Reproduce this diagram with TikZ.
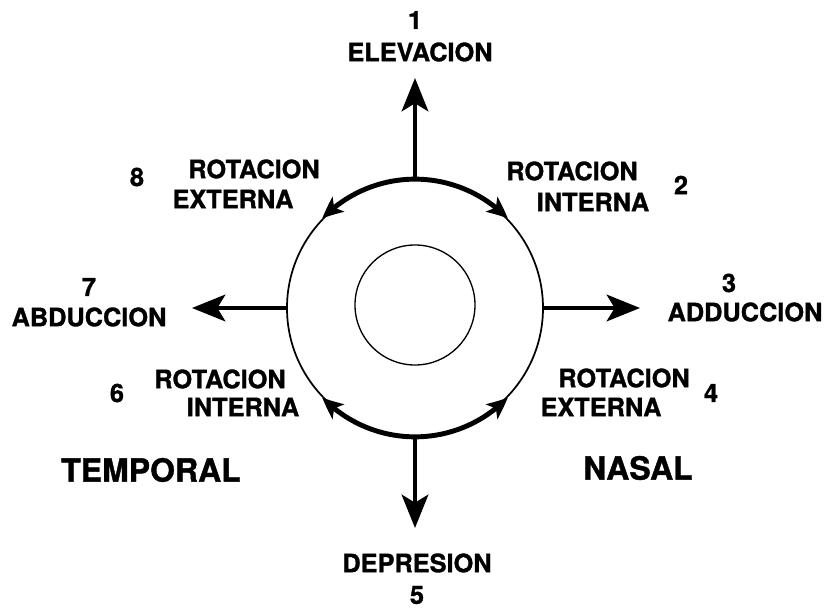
\documentclass[tikz,border=0pt]{standalone}
\usepackage{fontspec}
\setmainfont{TeX Gyre Heros}[BoldFeatures={FakeBold=1.2}]
\usepackage{tikz}
\usetikzlibrary{arrows.meta, bending}
\tikzset{
  >=Stealth,
  axisarrow/.style={-{Stealth[length=25pt, width=20pt, inset=6pt]}, line width=3pt},
  turnarrow/.style={-{Stealth[length=16pt, width=14pt, inset=4pt, bend]}, line width=3.7pt},
  lbl/.style={font=\fontsize{19}{21}\selectfont\bfseries, inner sep=0pt},
  sidelbl/.style={font=\fontsize{24}{28}\selectfont\bfseries, inner sep=0pt}
}
\begin{document}
\begin{tikzpicture}[x=0.75pt, y=0.75pt]
    \useasboundingbox (-415,-302) rectangle (414,308);
    \node (globe) [circle, draw, line width=1.3pt, minimum size=192pt, inner sep=0pt] at (0,0) {};
    \node (pupil) [circle, draw, line width=1pt, minimum size=90pt, inner sep=0pt] at (0,3) {};

    \coordinate (elevtip) at (0,230);
    \coordinate (deprtip) at (0,-220);
    \coordinate (abdtip) at (-223,0);
    \coordinate (addtip) at (225,0);

    \draw[axisarrow] (globe.north) -- (elevtip);
    \draw[axisarrow] (globe.south) -- (deprtip);
    \draw[axisarrow] (globe.west) -- (abdtip);
    \draw[axisarrow] (globe.east) -- (addtip);

    \draw[turnarrow] (globe.north) arc[start angle=90, end angle=136, radius=96.6pt];
    \draw[turnarrow] (globe.north) arc[start angle=90, end angle=44, radius=96.6pt];
    \draw[turnarrow] (globe.south) arc[start angle=270, end angle=224, radius=96.6pt];
    \draw[turnarrow] (globe.south) arc[start angle=270, end angle=316, radius=96.6pt];

    % labels
    \node (n1) [lbl] at (0,288) {1};
    \node (elev) [lbl] at (5,256) {ELEVACION};
    \node (n8) [lbl] at (-278,131) {8};
    \node (rotTL) [lbl] at (-161,139) {ROTACION};
    \node (extTL) [lbl] at (-182,109) {EXTERNA};
    \node (rotTR) [lbl] at (157,137) {ROTACION};
    \node (intTR) [lbl] at (178,106) {INTERNA};
    \node (n2) [lbl] at (266,123) {2};
    \node (n7) [lbl] at (-326,21) {7};
    \node (abd) [lbl] at (-326,-9) {ABDUCCION};
    \node (n3) [lbl] at (314,25) {3};
    \node (add) [lbl] at (330,-4) {ADDUCCION};
    \node (n6) [lbl] at (-298,-85) {6};
    \node (rotBL) [lbl] at (-195,-71) {ROTACION};
    \node (intBL) [lbl] at (-172,-99) {INTERNA};
    \node (rotBR) [lbl] at (209,-70) {ROTACION};
    \node (extBR) [lbl] at (186,-99) {EXTERNA};
    \node (n4) [lbl] at (296,-85) {4};
    \node (temp) [sidelbl] at (-264,-162) {TEMPORAL};
    \node (nasal) [sidelbl] at (223,-160) {NASAL};
    \node (depr) [lbl] at (2,-255) {DEPRESION};
    \node (n5) [lbl] at (2,-287) {5};
\end{tikzpicture}
\end{document}
